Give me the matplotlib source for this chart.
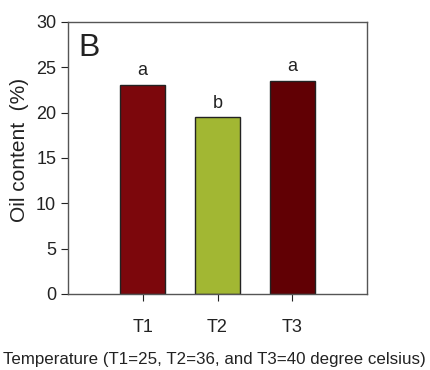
import matplotlib
matplotlib.use("Agg")
import matplotlib.pyplot as plt

# data
groups = ["T1", "T2", "T3"]
oil = [23.1, 19.5, 23.5]
letters = ["a", "b", "a"]
colors = ["#7C070C", "#A2B733", "#610004"]

plt.rcParams["font.family"] = ["Liberation Sans", "DejaVu Sans"]

fig = plt.figure(figsize=(4.3, 3.7), dpi=100)
ax = fig.add_axes([68 / 430, 1 - 294 / 370, 299 / 430, 272 / 370])

x = [1, 2, 3]
ax.bar(x, oil, width=0.6, color=colors, edgecolor="#222222", linewidth=1.0)
for xi, v, l in zip(x, oil, letters):
    ax.text(xi, v + 0.6, l, ha="center", va="bottom", fontsize=13, color="#222222")

ax.text(0.035, 0.96, "B", transform=ax.transAxes, fontsize=23, va="top", ha="left", color="#222222")

ax.set_xlim(0, 4)
ax.set_ylim(0, 30)
ax.set_xticks(x)
ax.set_xticklabels(groups)
ax.set_yticks(range(0, 31, 5))
ax.tick_params(axis="both", labelsize=13, colors="#222222", direction="out", length=5, width=0.8)
ax.tick_params(axis="x", pad=13)
for s in ax.spines.values():
    s.set_color("#555555")
    s.set_linewidth(1.0)

ax.set_ylabel("Oil content  (%)", fontsize=15, color="#222222")
ax.yaxis.set_label_coords(-0.13, 0.53)
ax.set_xlabel("Temperature (T1=25, T2=36, and T3=40 degree celsius)", fontsize=12.2,
              color="#222222")
ax.xaxis.set_label_coords(0.49, -0.215)

fig.savefig("out.png", dpi=100)
